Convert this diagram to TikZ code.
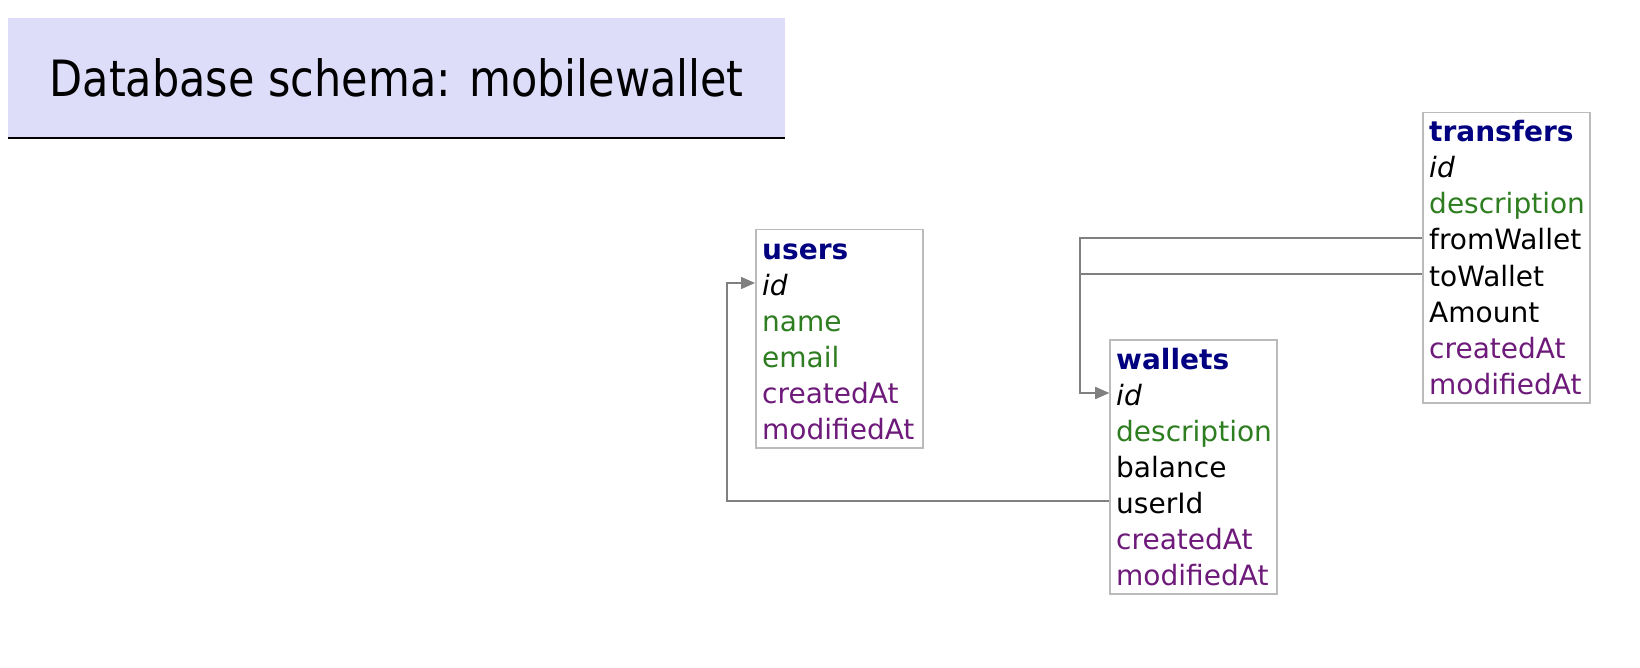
\documentclass[tikz,border=0pt]{standalone}
\usepackage{fontspec}
\setmainfont{DejaVu Sans}
\newfontfamily\titlefont[FakeStretch=0.86]{DejaVu Sans}
\usetikzlibrary{arrows.meta}
\definecolor{headblue}{HTML}{000080}
\definecolor{colgreen}{HTML}{2E7D20}
\definecolor{colpurple}{HTML}{6E1A7A}
\definecolor{titlebg}{HTML}{DDDDFA}
\definecolor{boxgray}{HTML}{BBBBBB}
\definecolor{linkgray}{HTML}{808080}
\begin{document}
\begin{tikzpicture}[x=1pt,y=-1pt,
    titlebox/.style={fill=titlebg,anchor=north west,minimum width=777pt,minimum height=120pt,inner sep=0pt,font=\titlefont\fontsize{50}{60}\selectfont},
    tbl/.style={draw=boxgray,line width=1.5pt,anchor=north west,inner sep=0pt,minimum width=167pt},
    row/.style={anchor=base west,inner sep=0pt,text height=24pt,text depth=0pt,font=\fontsize{28}{36}\selectfont},
    head/.style={row,font=\fontsize{28}{36}\selectfont\bfseries,text=headblue},
    key/.style={row,font=\fontsize{28}{36}\selectfont\itshape},
    data/.style={row,text=colgreen},
    stamp/.style={row,text=colpurple},
    fk/.style={draw=linkgray,line width=1.5pt,-{Triangle[length=14pt,width=12pt]}}]
    \useasboundingbox (0,0) rectangle (1640,668);

    \node[titlebox] (title) at (8,18) {Database schema: mobilewallet};
    \draw[line width=2pt] (title.south west) -- (title.south east);

    % users
    \node[tbl,minimum height=218pt] (users) at (755,229) {};
    \node[head] (users-title) at (762,259) {users};
    \node[key] (users-id) at (762,295) {id};
    \node[data] (users-name) at (762,331) {name};
    \node[data] (users-email) at (762,367) {email};
    \node[stamp] (users-createdAt) at (762,403) {createdAt};
    \node[stamp] (users-modifiedAt) at (762,439) {modifiedAt};

    % wallets
    \node[tbl,minimum height=254pt] (wallets) at (1109,339) {};
    \node[head] (wallets-title) at (1116,369) {wallets};
    \node[key] (wallets-id) at (1116,405) {id};
    \node[data] (wallets-description) at (1116,441) {description};
    \node[row] (wallets-balance) at (1116,477) {balance};
    \node[row] (wallets-userId) at (1116,513) {userId};
    \node[stamp] (wallets-createdAt) at (1116,549) {createdAt};
    \node[stamp] (wallets-modifiedAt) at (1116,585) {modifiedAt};

    % transfers
    \node[tbl,minimum height=290pt] (transfers) at (1422,112) {};
    \node[head] (transfers-title) at (1429,142) {transfers};
    \node[key] (transfers-id) at (1429,178) {id};
    \node[data] (transfers-description) at (1429,214) {description};
    \node[row] (transfers-fromWallet) at (1429,250) {fromWallet};
    \node[row] (transfers-toWallet) at (1429,286) {toWallet};
    \node[row] (transfers-Amount) at (1429,322) {Amount};
    \node[stamp] (transfers-createdAt) at (1429,358) {createdAt};
    \node[stamp] (transfers-modifiedAt) at (1429,394) {modifiedAt};

    % foreign keys
    \draw[fk] (wallets-userId.west -| wallets.west) -- ++(-382,0) |- (users-id.west -| users.west);
    \draw[fk] (transfers-fromWallet.west -| transfers.west) -- ++(-342,0) |- (wallets-id.west -| wallets.west);
    \draw[fk] (transfers-toWallet.west -| transfers.west) -- ++(-342,0) |- (wallets-id.west -| wallets.west);
\end{tikzpicture}
\end{document}
